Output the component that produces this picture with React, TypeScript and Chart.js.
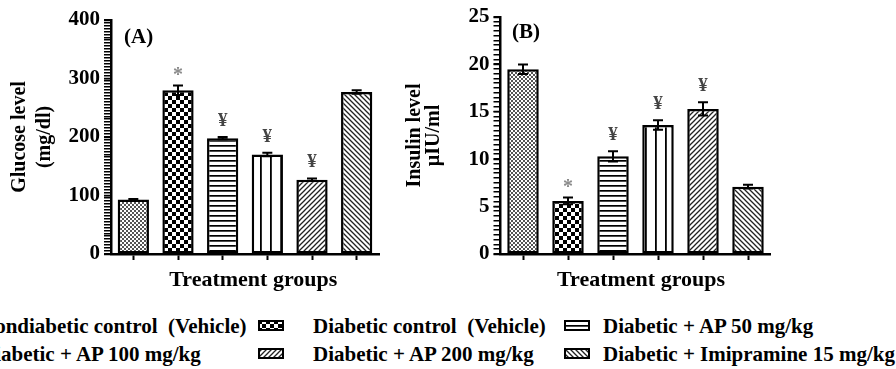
import React, { useEffect, useRef } from 'react';
import { Chart, registerables } from 'chart.js';

Chart.register(...registerables);

const FONT = "'Liberation Serif', 'Times New Roman', serif";

// ---- data ----
const groups = [
  'Nondiabetic control  (Vehicle)',
  'Diabetic control  (Vehicle)',
  'Diabetic + AP 50 mg/kg',
  'Diabetic + AP 100 mg/kg',
  'Diabetic + AP 200 mg/kg',
  'Diabetic + Imipramine 15 mg/kg',
];
const patternKinds = ['fine', 'check', 'h', 'v', 'up', 'down'];

const glucose = [93, 280, 198, 170, 127, 277];
const glucoseErr = [1, 8, 2, 3, 2, 3];
const glucoseMarks = ['', '*', '¥', '¥', '¥', ''];

const insulin = [19.5, 5.6, 10.3, 13.6, 15.3, 7.1];
const insulinErr = [0.5, 0.35, 0.55, 0.5, 0.7, 0.2];
const insulinMarks = ['', '*', '¥', '¥', '¥', ''];

const glucoseAxis = { max: 400, minorStep: 5, majorStep: 100 };
const insulinAxis = { max: 25, minorStep: 0.5, majorStep: 5 };

// ---- patterns ----
function makeTile(kind: string): HTMLCanvasElement {
  const c = document.createElement('canvas');
  let w = 8, h = 8;
  if (kind === 'fine') { w = 4; h = 4; }
  if (kind === 'check') { w = 8; h = 8; }
  if (kind === 'h') { w = 8; h = 5; }
  if (kind === 'v') { w = 10; h = 8; }
  if (kind === 'up' || kind === 'down') { w = 5; h = 5; }
  c.width = w; c.height = h;
  const ctx = c.getContext('2d')!;
  ctx.fillStyle = '#fff';
  ctx.fillRect(0, 0, w, h);
  if (kind === 'fine') {
    ctx.fillStyle = '#555';
    ctx.fillRect(0, 0, 2, 2);
    ctx.fillRect(2, 2, 2, 2);
  } else if (kind === 'check') {
    ctx.fillStyle = '#000';
    ctx.fillRect(0, 0, 4, 4);
    ctx.fillRect(4, 4, 4, 4);
  } else if (kind === 'h') {
    ctx.fillStyle = '#000';
    ctx.fillRect(0, 0, w, 1.7);
  } else if (kind === 'v') {
    ctx.fillStyle = '#000';
    ctx.fillRect(0, 0, 1.8, h);
  } else if (kind === 'up') {
    ctx.strokeStyle = '#222';
    ctx.lineWidth = 1.3;
    ctx.beginPath();
    ctx.moveTo(-1, 6); ctx.lineTo(6, -1);
    ctx.moveTo(-1, 1); ctx.lineTo(1, -1);
    ctx.moveTo(4, 6); ctx.lineTo(6, 4);
    ctx.stroke();
  } else if (kind === 'down') {
    ctx.strokeStyle = '#222';
    ctx.lineWidth = 1.3;
    ctx.beginPath();
    ctx.moveTo(-1, -1); ctx.lineTo(6, 6);
    ctx.moveTo(-1, 4); ctx.lineTo(1, 6);
    ctx.moveTo(4, -1); ctx.lineTo(6, 1);
    ctx.stroke();
  }
  return c;
}

function makePattern(ctx: CanvasRenderingContext2D, kind: string) {
  return ctx.createPattern(makeTile(kind), 'repeat')!;
}

// ---- overlay plugin (minor ticks, error bars, significance marks, panel label) ----
function makeOverlay(
  values: number[],
  errors: number[],
  marks: string[],
  axis: { max: number; minorStep: number },
  panel: string,
  dx: number,
  dy: number
) {
  return {
    id: 'overlay',
    afterDraw(chart: any) {
      const ctx = chart.ctx as CanvasRenderingContext2D;
      const meta = chart.getDatasetMeta(0);
      const y = chart.scales.y;
      const area = chart.chartArea;
      ctx.save();
      // minor ruler ticks along the y axis
      ctx.fillStyle = '#000';
      const n = Math.round(axis.max / axis.minorStep);
      for (let k = 0; k <= n; k++) {
        const py = Math.round(y.getPixelForValue(k * axis.minorStep));
        ctx.fillRect(area.left - 7, py - 1, 7, 1.5);
      }
      values.forEach((v, i) => {
        const x = meta.data[i].x;
        const e = errors[i];
        const yt = y.getPixelForValue(v + e);
        const yb = y.getPixelForValue(v - e);
        ctx.strokeStyle = '#000';
        ctx.lineWidth = 2;
        ctx.beginPath();
        ctx.moveTo(x, yt); ctx.lineTo(x, yb);
        ctx.moveTo(x - 5, yt); ctx.lineTo(x + 5, yt);
        ctx.moveTo(x - 5, yb); ctx.lineTo(x + 5, yb);
        ctx.stroke();
        const m = marks[i];
        if (m) {
          ctx.textAlign = 'center';
          ctx.textBaseline = 'middle';
          if (m === '*') {
            ctx.font = `bold 20px ${FONT}`;
            ctx.fillStyle = '#8a8a8a';
            ctx.fillText(m, x, yt - 10);
          } else {
            ctx.font = `bold 19px ${FONT}`;
            ctx.fillStyle = '#444';
            ctx.fillText(m, x, yt - 16);
          }
        }
      });
      ctx.font = `bold 21px ${FONT}`;
      ctx.fillStyle = '#000';
      ctx.textAlign = 'left';
      ctx.textBaseline = 'middle';
      ctx.fillText(panel, area.left + dx, area.top + dy);
      ctx.restore();
    },
  };
}

type PanelProps = {
  values: number[];
  errors: number[];
  marks: string[];
  axis: { max: number; minorStep: number; majorStep: number };
  title: string[];
  xTitle: string;
  titleLH: number;
  titlePad: number;
  yWidth: number;
  padTop: number;
  padRight: number;
  panel: string;
  dx: number;
  dy: number;
  left: number;
  width: number;
};

function Panel(p: PanelProps) {
  const ref = useRef<HTMLCanvasElement>(null);
  useEffect(() => {
    const canvas = ref.current!;
    const ctx = canvas.getContext('2d')!;
    const fills = patternKinds.map((k) => makePattern(ctx, k));
    const chart = new Chart(canvas, {
      type: 'bar',
      data: {
        labels: groups,
        datasets: [
          {
            data: p.values,
            backgroundColor: fills as any,
            borderColor: '#000',
            borderWidth: 2.5,
            borderSkipped: false,
            barPercentage: 0.7,
            categoryPercentage: 1,
          },
        ],
      },
      options: {
        responsive: false,
        animation: false,
        devicePixelRatio: 1,
        layout: { padding: { top: p.padTop, right: p.padRight, left: 0, bottom: 0 } },
        plugins: { legend: { display: false }, tooltip: { enabled: false } },
        scales: {
          x: {
            grid: {
              display: true,
              drawOnChartArea: false,
              drawTicks: true,
              tickLength: 6,
              offset: false,
              tickColor: '#000',
              tickWidth: 2,
            },
            border: { display: true, color: '#000', width: 2.5 },
            ticks: { display: false },
            title: {
              display: true,
              text: p.xTitle,
              color: '#000',
              font: { family: FONT, size: 22, weight: 'bold', lineHeight: 1.1 },
              padding: { top: 0, bottom: 8 },
            },
            afterFit: (s: any) => { s.height = 46; },
          },
          y: {
            min: 0,
            max: p.axis.max,
            grid: {
              display: true,
              drawOnChartArea: false,
              drawTicks: true,
              tickLength: 7,
              tickColor: '#000',
              tickWidth: 1.5,
            },
            border: { display: true, color: '#000', width: 2.5 },
            ticks: {
              stepSize: p.axis.majorStep,
              autoSkip: false,
              padding: 4,
              color: '#000',
              font: { family: FONT, size: 21, weight: 'bold' },
            },
            title: {
              display: true,
              text: p.title,
              color: '#000',
              font: { family: FONT, size: 20, weight: 'bold', lineHeight: p.titleLH / 20 },
              padding: { top: p.titlePad, bottom: 0 },
            },
            afterFit: (s: any) => { s.width = p.yWidth; },
          },
        },
      },
      plugins: [makeOverlay(p.values, p.errors, p.marks, p.axis, p.panel, p.dx, p.dy)],
    } as any);
    return () => chart.destroy();
  }, []);
  return (
    <canvas
      ref={ref}
      width={p.width}
      height={300}
      style={{ position: 'absolute', left: p.left, top: 0, width: p.width, height: 300 }}
    />
  );
}

function Swatch({ kind }: { kind: string }) {
  const ref = useRef<HTMLCanvasElement>(null);
  useEffect(() => {
    const c = ref.current!;
    const ctx = c.getContext('2d')!;
    ctx.fillStyle = makePattern(ctx, kind);
    ctx.fillRect(0, 0, c.width, c.height);
    ctx.strokeStyle = '#000';
    ctx.lineWidth = 2;
    ctx.strokeRect(1, 1, c.width - 2, c.height - 2);
  }, [kind]);
  return <canvas ref={ref} width={26} height={11} style={{ display: 'block' }} />;
}

const legendSwatchX = [-57, 258, 564];
const legendTextX = [-20, 313, 603];
const legendRowY = [326, 354];

export default function App() {
  return (
    <div
      style={{
        position: 'fixed',
        left: 0,
        top: 0,
        width: 896,
        height: 369,
        overflow: 'hidden',
        background: '#fff',
      }}
    >
      <Panel
        values={glucose}
        errors={glucoseErr}
        marks={glucoseMarks}
        axis={glucoseAxis}
        title={['Glucose level', '(mg/dl)']}
        xTitle={'   Treatment groups'}
        titleLH={25}
        titlePad={7.5}
        yWidth={111}
        padTop={20}
        padRight={16}
        panel="(A)"
        dx={13}
        dy={18}
        left={0}
        width={395}
      />
      <Panel
        values={insulin}
        errors={insulinErr}
        marks={insulinMarks}
        axis={insulinAxis}
        title={['Insulin level', 'µIU/ml']}
        xTitle={'  Treatment groups'}
        titleLH={19}
        titlePad={10.5}
        yWidth={105.5}
        padTop={17}
        padRight={125.5}
        panel="(B)"
        dx={11.5}
        dy={16}
        left={395}
        width={501}
      />
      {groups.map((g, i) => {
        const row = Math.floor(i / 3);
        const col = i % 3;
        const cy = legendRowY[row];
        return (
          <React.Fragment key={g}>
            <div style={{ position: 'absolute', left: legendSwatchX[col], top: cy - 6 }}>
              <Swatch kind={patternKinds[i]} />
            </div>
            <div
              style={{
                position: 'absolute',
                left: legendTextX[col],
                top: cy,
                transform: 'translateY(-50%)',
                font: `bold 21px ${FONT}`,
                lineHeight: '1',
                whiteSpace: 'pre',
                color: '#000',
              }}
            >
              {g}
            </div>
          </React.Fragment>
        );
      })}
    </div>
  );
}
